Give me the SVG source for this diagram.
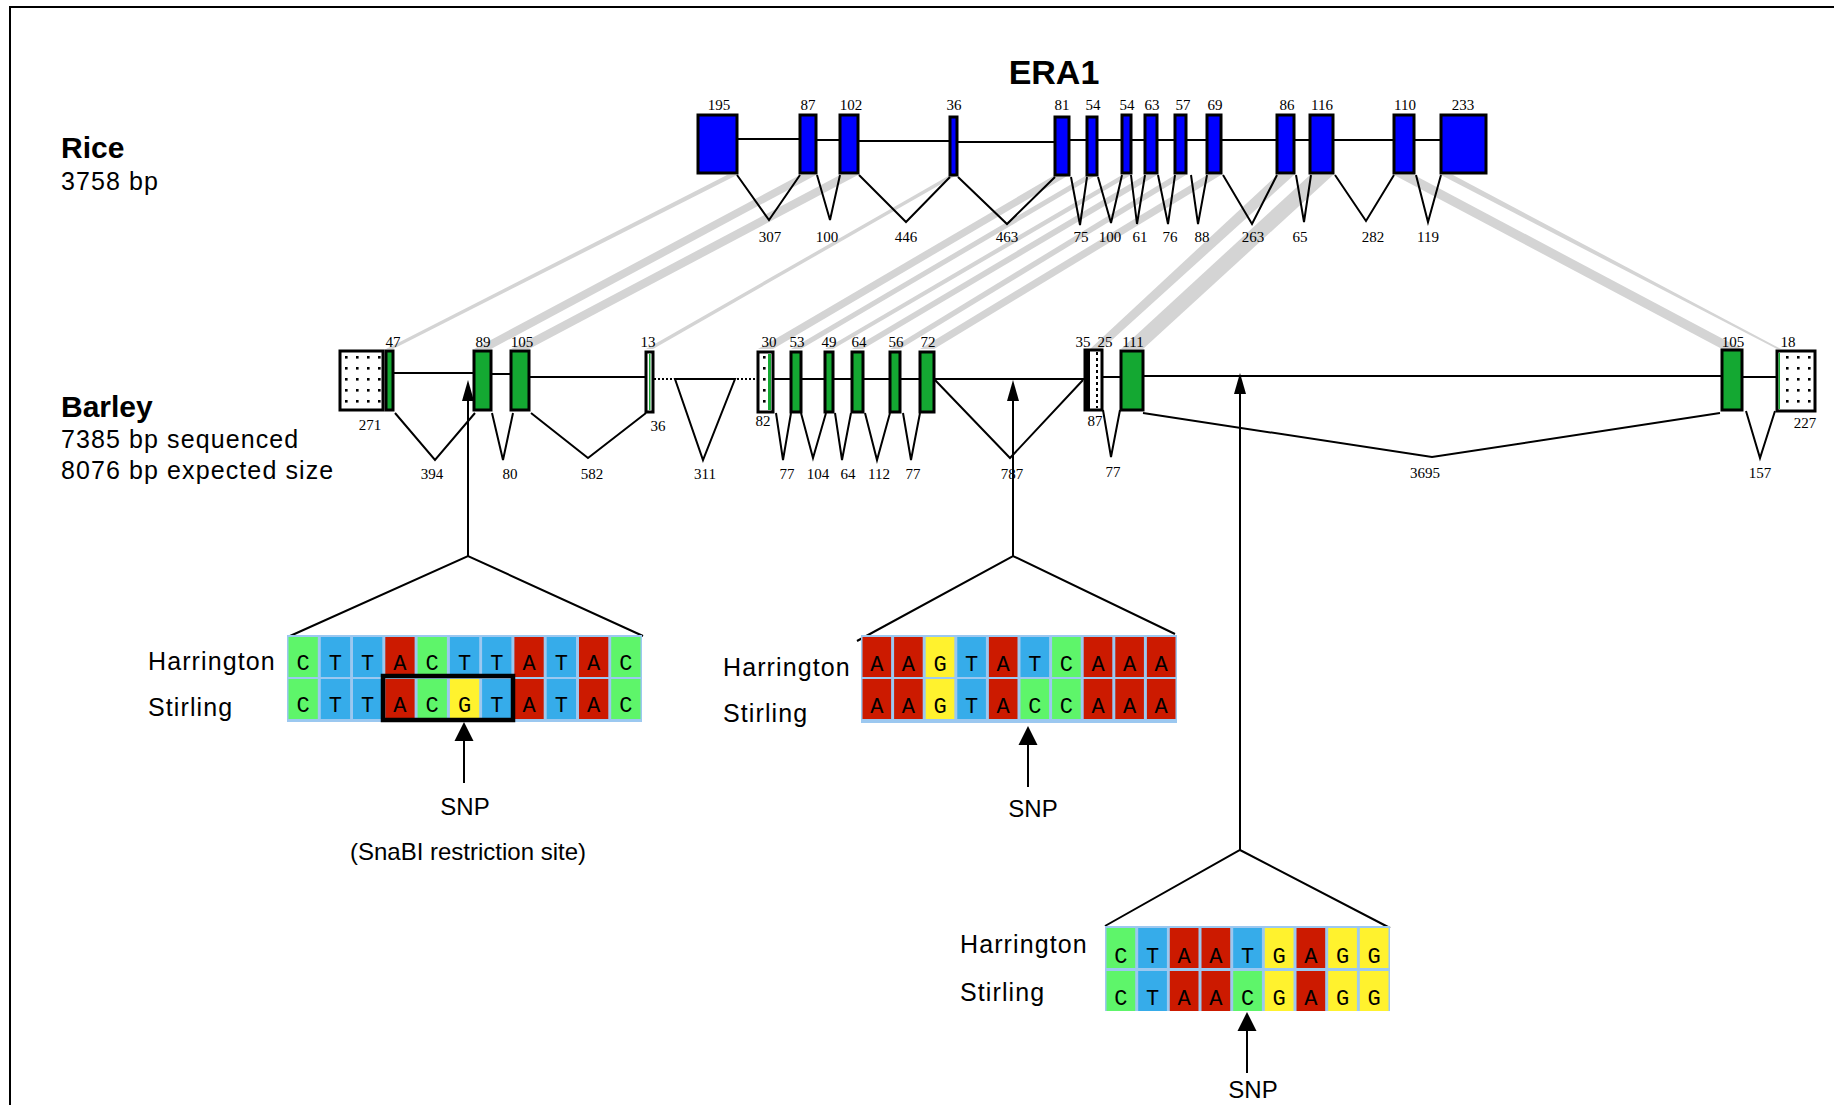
<svg xmlns="http://www.w3.org/2000/svg" width="1834" height="1105" viewBox="0 0 1834 1105">
<defs>
<pattern id="dots" width="11" height="11" patternUnits="userSpaceOnUse" x="340" y="351"><rect width="11" height="11" fill="#fff"/><rect x="5" y="5" width="2.6" height="2.6" fill="#000"/></pattern>
</defs>
<style>
.num{font-family:"Liberation Serif","Times New Roman",serif;font-size:15px;text-anchor:middle;fill:#000}
.lbl{font-family:"Liberation Sans",Arial,sans-serif;font-size:25px;letter-spacing:1.1px;fill:#000}
.bold{font-family:"Liberation Sans",Arial,sans-serif;font-weight:bold;fill:#000}
.ln{stroke:#000;stroke-width:2;fill:none}
.dot{stroke:#000;stroke-width:2;fill:none;stroke-dasharray:2 2}
.rx{fill:#0000ff;stroke:#000;stroke-width:3}
.bx{fill:#14a832;stroke:#000;stroke-width:3}
.ux{fill:url(#dots);stroke:#000;stroke-width:3}
.band{fill:#d4d4d4}
.A{fill:#cc1a00}.C{fill:#5ef56a}.G{fill:#fff22e}.T{fill:#36acea}
.bg{fill:#9cc8f0}
.seq{font-family:"Liberation Mono","DejaVu Sans Mono",monospace;font-size:22px;text-anchor:middle;fill:#000}
.snp{font-family:"Liberation Sans",Arial,sans-serif;font-size:24px;text-anchor:middle;fill:#000}
</style>
<rect width="1834" height="1105" fill="#fff"/>
<path d="M10,1105 V7 H1834" fill="none" stroke="#000" stroke-width="2"/>

<g id="homology-bands">
<polygon class="band" points="727,175 737,175 393,349 386,349"/>
<polygon class="band" points="800,175 816,175 491,349 474,349"/>
<polygon class="band" points="840,175 858,175 529,349 511,349"/>
<polygon class="band" points="950,175 957,175 653,349 646,349"/>
<polygon class="band" points="1055,175 1069,175 773,349 758,349"/>
<polygon class="band" points="1087,175 1097,175 801,349 791,349"/>
<polygon class="band" points="1122,175 1131,175 833,349 825,349"/>
<polygon class="band" points="1145,175 1157,175 863,349 852,349"/>
<polygon class="band" points="1175,175 1186,175 900,349 890,349"/>
<polygon class="band" points="1207,175 1221,175 934,349 920,349"/>
<polygon class="band" points="1277,175 1294,175 1102,349 1090,349"/>
<polygon class="band" points="1310,175 1333,175 1143,349 1121,349"/>
<polygon class="band" points="1394,175 1414,175 1742,349 1722,349"/>
<polygon class="band" points="1441,175 1453,175 1781,349 1777,349"/>
</g>

<text class="bold" x="1054" y="84" font-size="34" text-anchor="middle">ERA1</text>
<g id="labels">
<text class="bold" x="61" y="158" font-size="30">Rice</text>
<text class="lbl" x="61" y="190">3758 bp</text>
<text class="bold" x="61" y="417" font-size="30">Barley</text>
<text class="lbl" x="61" y="448">7385 bp sequenced</text>
<text class="lbl" x="61" y="479">8076 bp expected size</text>
</g>

<g id="connectors">
<path class="ln" d="M737,139 H800 M816,140 H840 M858,141 H950 M957,142 H1055 M1069,140 H1441"/>
<polyline class="ln" points="737,175 769,220 800,175"/>
<polyline class="ln" points="817,175 830,220 840,175"/>
<polyline class="ln" points="859,175 906,222 950,177"/>
<polyline class="ln" points="958,177 1007,224 1055,177"/>
<polyline class="ln" points="1071,177 1080,225 1087,177"/>
<polyline class="ln" points="1098,177 1111,223 1122,175"/>
<polyline class="ln" points="1131,175 1137,224 1145,175"/>
<polyline class="ln" points="1158,175 1168,224 1175,175"/>
<polyline class="ln" points="1191,175 1198,224 1207,175"/>
<polyline class="ln" points="1223,175 1252,224 1277,175"/>
<polyline class="ln" points="1296,175 1304,222 1311,175"/>
<polyline class="ln" points="1335,175 1366,221 1394,175"/>
<polyline class="ln" points="1416,175 1428,222 1441,175"/>
<path class="ln" d="M393,373 H474 M491,374 H511 M529,377 H646 M773,379 H920 M934,379 H1085 M1102,377 H1121 M1143,376 H1722 M1742,377 H1777"/>
<path class="dot" d="M654,379 H675 M737,379 H757"/>
<path class="ln" d="M675,379 H735 L703,460 Z"/>
<polyline class="ln" points="395,413 435,460 475,413"/>
<polyline class="ln" points="492,413 503,460 513,413"/>
<polyline class="ln" points="531,413 588,458 646,413"/>
<polyline class="ln" points="776,413 783,460 791,413"/>
<polyline class="ln" points="801,413 813,458 826,413"/>
<polyline class="ln" points="835,413 842,460 851,413"/>
<polyline class="ln" points="865,413 877,460 890,413"/>
<polyline class="ln" points="903,413 911,460 920,413"/>
<polyline class="ln" points="935,380 1010,458 1083,380"/>
<polyline class="ln" points="1103,410 1111,457 1120,410"/>
<polyline class="ln" points="1143,413 1432,457 1720,413"/>
<polyline class="ln" points="1746,411 1760,458 1775,411"/>
<path class="ln" d="M468,556 V398 M290,636 L468,556 L643,636"/>
<polygon points="468,380 462,401 474,401" fill="#000"/>
<path class="ln" d="M1013,556 V398 M857,641 L1013,556 L1175,634"/>
<polygon points="1013,380 1007,401 1019,401" fill="#000"/>
<path class="ln" d="M1240,850 V392 M1105,926 L1240,850 L1390,928"/>
<polygon points="1240,373 1234,394 1246,394" fill="#000"/>
<path class="ln" d="M464,783 V738"/>
<polygon points="464,722 454.5,741 473.5,741" fill="#000"/>
<path class="ln" d="M1028,787 V742"/>
<polygon points="1028,726 1018.5,745 1037.5,745" fill="#000"/>
<path class="ln" d="M1247,1073 V1028"/>
<polygon points="1247,1012 1237.5,1031 1256.5,1031" fill="#000"/>
</g>

<g id="rice-exons">
<rect class="rx" x="698" y="115" width="39" height="58"/>
<rect class="rx" x="800" y="115" width="16" height="58"/>
<rect class="rx" x="840" y="115" width="18" height="58"/>
<rect class="rx" x="950" y="117" width="7" height="58"/>
<rect class="rx" x="1055" y="117" width="14" height="58"/>
<rect class="rx" x="1087" y="117" width="10" height="58"/>
<rect class="rx" x="1122" y="115" width="9" height="58"/>
<rect class="rx" x="1145" y="115" width="12" height="58"/>
<rect class="rx" x="1175" y="115" width="11" height="58"/>
<rect class="rx" x="1207" y="115" width="14" height="58"/>
<rect class="rx" x="1277" y="115" width="17" height="58"/>
<rect class="rx" x="1310" y="115" width="23" height="58"/>
<rect class="rx" x="1394" y="115" width="20" height="58"/>
<rect class="rx" x="1441" y="115" width="45" height="58"/>
</g>
<g id="rice-numbers">
<text class="num" x="719" y="110">195</text><text class="num" x="808" y="110">87</text><text class="num" x="851" y="110">102</text><text class="num" x="954" y="110">36</text><text class="num" x="1062" y="110">81</text><text class="num" x="1093" y="110">54</text><text class="num" x="1127" y="110">54</text><text class="num" x="1152" y="110">63</text><text class="num" x="1183" y="110">57</text><text class="num" x="1215" y="110">69</text><text class="num" x="1287" y="110">86</text><text class="num" x="1322" y="110">116</text><text class="num" x="1405" y="110">110</text><text class="num" x="1463" y="110">233</text>
<text class="num" x="770" y="242">307</text><text class="num" x="827" y="242">100</text><text class="num" x="906" y="242">446</text><text class="num" x="1007" y="242">463</text><text class="num" x="1081" y="242">75</text><text class="num" x="1110" y="242">100</text><text class="num" x="1140" y="242">61</text><text class="num" x="1170" y="242">76</text><text class="num" x="1202" y="242">88</text><text class="num" x="1253" y="242">263</text><text class="num" x="1300" y="242">65</text><text class="num" x="1373" y="242">282</text><text class="num" x="1428" y="242">119</text>
</g>

<g id="barley-exons">
<rect class="ux" x="340" y="351" width="43" height="59"/>
<rect class="bx" x="386" y="351" width="7" height="59"/>
<rect class="bx" x="474" y="351" width="17" height="59"/>
<rect class="bx" x="511" y="351" width="18" height="59"/>
<g id="ex13"><rect class="ux" x="646" y="352" width="7" height="60"/><rect x="649" y="354" width="1.5" height="56" fill="#14a832"/></g>
<g id="ex30"><rect class="ux" x="758" y="352" width="15" height="60"/><rect x="768" y="354" width="3" height="56" fill="#14a832"/></g>
<rect class="bx" x="791" y="352" width="10" height="60"/>
<rect class="bx" x="825" y="352" width="8" height="60"/>
<rect class="bx" x="852" y="352" width="11" height="60"/>
<rect class="bx" x="890" y="352" width="10" height="60"/>
<rect class="bx" x="920" y="352" width="14" height="60"/>
<g id="ex35"><rect x="1085" y="350" width="17" height="60" fill="#fff" stroke="#000" stroke-width="3"/><rect x="1085" y="350" width="5" height="60" fill="#000"/><path d="M1097,352 V408" stroke="#000" stroke-width="2" stroke-dasharray="3 3"/></g>
<rect class="bx" x="1121" y="351" width="22" height="59"/>
<rect class="bx" x="1722" y="350" width="20" height="60"/>
<g id="ex18"><rect class="ux" x="1777" y="351" width="38" height="60"/><rect x="1778.5" y="353" width="1.5" height="56" fill="#14a832"/></g>
</g>
<g id="barley-numbers">
<text class="num" x="393" y="347">47</text><text class="num" x="483" y="347">89</text><text class="num" x="522" y="347">105</text><text class="num" x="648" y="347">13</text><text class="num" x="769" y="347">30</text><text class="num" x="797" y="347">53</text><text class="num" x="829" y="347">49</text><text class="num" x="859" y="347">64</text><text class="num" x="896" y="347">56</text><text class="num" x="928" y="347">72</text><text class="num" x="1083" y="347">35</text><text class="num" x="1105" y="347">25</text><text class="num" x="1133" y="347">111</text><text class="num" x="1733" y="347">105</text><text class="num" x="1788" y="347">18</text>
<text class="num" x="370" y="430">271</text><text class="num" x="658" y="431">36</text><text class="num" x="763" y="426">82</text><text class="num" x="1095" y="426">87</text><text class="num" x="1805" y="428">227</text>
<text class="num" x="432" y="479">394</text><text class="num" x="510" y="479">80</text><text class="num" x="592" y="479">582</text><text class="num" x="705" y="479">311</text><text class="num" x="787" y="479">77</text><text class="num" x="818" y="479">104</text><text class="num" x="848" y="479">64</text><text class="num" x="879" y="479">112</text><text class="num" x="913" y="479">77</text><text class="num" x="1012" y="479">787</text><text class="num" x="1113" y="477">77</text><text class="num" x="1425" y="478">3695</text><text class="num" x="1760" y="478">157</text>
</g>

<g id="snp1">
<text class="lbl" x="148" y="670">Harrington</text>
<text class="lbl" x="148" y="716">Stirling</text>
<g transform="translate(287,637)">
<rect class="bg" x="0" y="-2" width="355" height="87"/>
<rect class="C" x="1.5" y="0" width="29.3" height="40"/><rect class="T" x="33.8" y="0" width="29.3" height="40"/><rect class="T" x="66" y="0" width="29.3" height="40"/><rect class="A" x="98.3" y="0" width="29.3" height="40"/><rect class="C" x="130.6" y="0" width="29.3" height="40"/><rect class="T" x="162.9" y="0" width="29.3" height="40"/><rect class="T" x="195.1" y="0" width="29.3" height="40"/><rect class="A" x="227.4" y="0" width="29.3" height="40"/><rect class="T" x="259.7" y="0" width="29.3" height="40"/><rect class="A" x="292" y="0" width="29.3" height="40"/><rect class="C" x="324.2" y="0" width="29.3" height="40"/>
<rect class="C" x="1.5" y="42" width="29.3" height="40"/><rect class="T" x="33.8" y="42" width="29.3" height="40"/><rect class="T" x="66" y="42" width="29.3" height="40"/><rect class="A" x="98.3" y="42" width="29.3" height="40"/><rect class="C" x="130.6" y="42" width="29.3" height="40"/><rect class="G" x="162.9" y="42" width="29.3" height="40"/><rect class="T" x="195.1" y="42" width="29.3" height="40"/><rect class="A" x="227.4" y="42" width="29.3" height="40"/><rect class="T" x="259.7" y="42" width="29.3" height="40"/><rect class="A" x="292" y="42" width="29.3" height="40"/><rect class="C" x="324.2" y="42" width="29.3" height="40"/>
<text class="seq" x="16.1" y="33">C</text><text class="seq" x="48.4" y="33">T</text><text class="seq" x="80.7" y="33">T</text><text class="seq" x="112.9" y="33">A</text><text class="seq" x="145.2" y="33">C</text><text class="seq" x="177.5" y="33">T</text><text class="seq" x="209.8" y="33">T</text><text class="seq" x="242" y="33">A</text><text class="seq" x="274.3" y="33">T</text><text class="seq" x="306.6" y="33">A</text><text class="seq" x="338.8" y="33">C</text>
<text class="seq" x="16.1" y="75">C</text><text class="seq" x="48.4" y="75">T</text><text class="seq" x="80.7" y="75">T</text><text class="seq" x="112.9" y="75">A</text><text class="seq" x="145.2" y="75">C</text><text class="seq" x="177.5" y="75">G</text><text class="seq" x="209.8" y="75">T</text><text class="seq" x="242" y="75">A</text><text class="seq" x="274.3" y="75">T</text><text class="seq" x="306.6" y="75">A</text><text class="seq" x="338.8" y="75">C</text>
<rect x="96" y="39" width="130" height="44" fill="none" stroke="#000" stroke-width="4.5"/>
</g>
<text class="snp" x="465" y="815">SNP</text>
<text class="snp" x="468" y="860" font-size="25">(SnaBI restriction site)</text>
</g>

<g id="snp2">
<text class="lbl" x="723" y="676">Harrington</text>
<text class="lbl" x="723" y="722">Stirling</text>
<g transform="translate(861,637)">
<rect class="bg" x="0" y="-2" width="316" height="88"/>
<rect class="A" x="1.5" y="0" width="28.6" height="40"/><rect class="A" x="33.1" y="0" width="28.6" height="40"/><rect class="G" x="64.7" y="0" width="28.6" height="40"/><rect class="T" x="96.3" y="0" width="28.6" height="40"/><rect class="A" x="127.9" y="0" width="28.6" height="40"/><rect class="T" x="159.5" y="0" width="28.6" height="40"/><rect class="C" x="191.1" y="0" width="28.6" height="40"/><rect class="A" x="222.7" y="0" width="28.6" height="40"/><rect class="A" x="254.3" y="0" width="28.6" height="40"/><rect class="A" x="285.9" y="0" width="28.6" height="40"/>
<rect class="A" x="1.5" y="42" width="28.6" height="40"/><rect class="A" x="33.1" y="42" width="28.6" height="40"/><rect class="G" x="64.7" y="42" width="28.6" height="40"/><rect class="T" x="96.3" y="42" width="28.6" height="40"/><rect class="A" x="127.9" y="42" width="28.6" height="40"/><rect class="C" x="159.5" y="42" width="28.6" height="40"/><rect class="C" x="191.1" y="42" width="28.6" height="40"/><rect class="A" x="222.7" y="42" width="28.6" height="40"/><rect class="A" x="254.3" y="42" width="28.6" height="40"/><rect class="A" x="285.9" y="42" width="28.6" height="40"/>
<text class="seq" x="15.8" y="34">A</text><text class="seq" x="47.4" y="34">A</text><text class="seq" x="79" y="34">G</text><text class="seq" x="110.6" y="34">T</text><text class="seq" x="142.2" y="34">A</text><text class="seq" x="173.8" y="34">T</text><text class="seq" x="205.4" y="34">C</text><text class="seq" x="237" y="34">A</text><text class="seq" x="268.6" y="34">A</text><text class="seq" x="300.2" y="34">A</text>
<text class="seq" x="15.8" y="76">A</text><text class="seq" x="47.4" y="76">A</text><text class="seq" x="79" y="76">G</text><text class="seq" x="110.6" y="76">T</text><text class="seq" x="142.2" y="76">A</text><text class="seq" x="173.8" y="76">C</text><text class="seq" x="205.4" y="76">C</text><text class="seq" x="237" y="76">A</text><text class="seq" x="268.6" y="76">A</text><text class="seq" x="300.2" y="76">A</text>
</g>
<text class="snp" x="1033" y="817">SNP</text>
</g>

<g id="snp3">
<text class="lbl" x="960" y="953">Harrington</text>
<text class="lbl" x="960" y="1001">Stirling</text>
<g transform="translate(1105,928)">
<rect class="bg" x="0" y="-2" width="285" height="85"/>
<rect class="C" x="1.5" y="0" width="28.7" height="40"/><rect class="T" x="33.2" y="0" width="28.7" height="40"/><rect class="A" x="64.8" y="0" width="28.7" height="40"/><rect class="A" x="96.5" y="0" width="28.7" height="40"/><rect class="T" x="128.2" y="0" width="28.7" height="40"/><rect class="G" x="159.8" y="0" width="28.7" height="40"/><rect class="A" x="191.5" y="0" width="28.7" height="40"/><rect class="G" x="223.2" y="0" width="28.7" height="40"/><rect class="G" x="254.8" y="0" width="28.7" height="40"/>
<rect class="C" x="1.5" y="43" width="28.7" height="40"/><rect class="T" x="33.2" y="43" width="28.7" height="40"/><rect class="A" x="64.8" y="43" width="28.7" height="40"/><rect class="A" x="96.5" y="43" width="28.7" height="40"/><rect class="C" x="128.2" y="43" width="28.7" height="40"/><rect class="G" x="159.8" y="43" width="28.7" height="40"/><rect class="A" x="191.5" y="43" width="28.7" height="40"/><rect class="G" x="223.2" y="43" width="28.7" height="40"/><rect class="G" x="254.8" y="43" width="28.7" height="40"/>
<text class="seq" x="15.8" y="35">C</text><text class="seq" x="47.5" y="35">T</text><text class="seq" x="79.2" y="35">A</text><text class="seq" x="110.8" y="35">A</text><text class="seq" x="142.5" y="35">T</text><text class="seq" x="174.2" y="35">G</text><text class="seq" x="205.8" y="35">A</text><text class="seq" x="237.5" y="35">G</text><text class="seq" x="269.2" y="35">G</text>
<text class="seq" x="15.8" y="77">C</text><text class="seq" x="47.5" y="77">T</text><text class="seq" x="79.2" y="77">A</text><text class="seq" x="110.8" y="77">A</text><text class="seq" x="142.5" y="77">C</text><text class="seq" x="174.2" y="77">G</text><text class="seq" x="205.8" y="77">A</text><text class="seq" x="237.5" y="77">G</text><text class="seq" x="269.2" y="77">G</text>
</g>
<text class="snp" x="1253" y="1098">SNP</text>
</g>
</svg>
